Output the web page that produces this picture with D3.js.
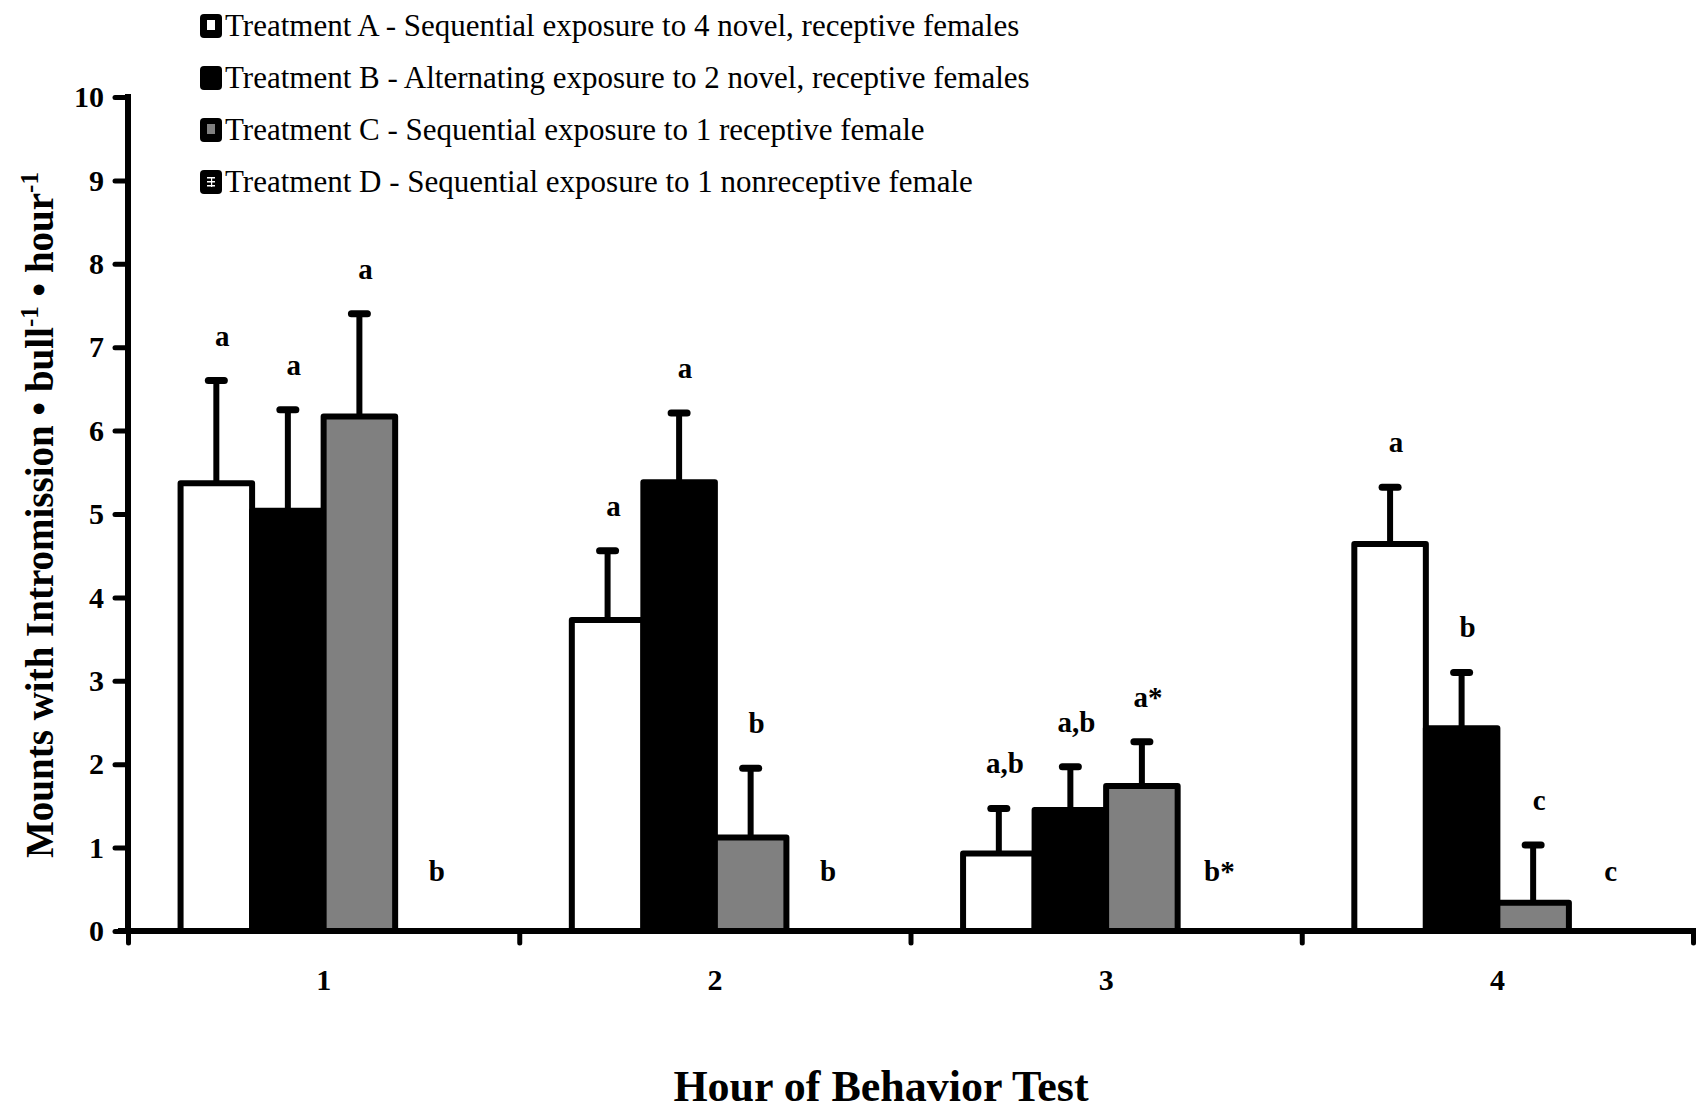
<!DOCTYPE html>
<html>
<head>
<meta charset="utf-8">
<script src="https://cdn.jsdelivr.net/npm/d3@7"></script>
<style>
  html, body { margin: 0; padding: 0; background: #fff; }
  svg { display: block; }
  text { font-family: "Liberation Serif", "DejaVu Serif", serif; fill: #000; }
</style>
</head>
<body>
<svg id="chart" width="1696" height="1111"></svg>
<script>
// ---------------- data ----------------
const categories = ["1", "2", "3", "4"];
const seriesKeys = ["A", "B", "C", "D"];
const seriesLabels = [
  "Treatment A - Sequential exposure to 4 novel, receptive females",
  "Treatment B - Alternating exposure to 2 novel, receptive females",
  "Treatment C - Sequential exposure to 1 receptive female",
  "Treatment D - Sequential exposure to 1 nonreceptive female"
];
const meansA = [5.37, 3.73, 0.93, 4.64];
const meansB = [5.04, 5.38, 1.45, 2.43];
const meansC = [6.17, 1.12, 1.74, 0.34];
const meansD = [0, 0, 0, 0];
const seA = [1.23, 0.83, 0.54, 0.68];
const seB = [1.21, 0.83, 0.52, 0.67];
const seC = [1.23, 0.83, 0.53, 0.69];
const seD = [0, 0, 0, 0];
const lettersA = ["a", "a", "a,b", "a"];
const lettersB = ["a", "a", "a,b", "b"];
const lettersC = ["a", "b", "a*", "c"];
const lettersD = ["b", "b", "b*", "c"];
const yTicks = [0, 1, 2, 3, 4, 5, 6, 7, 8, 9, 10];
const xTitle = "Hour of Behavior Test";

const means = { A: meansA, B: meansB, C: meansC, D: meansD };
const ses = { A: seA, B: seB, C: seC, D: seD };
const letters = { A: lettersA, B: lettersB, C: lettersC, D: lettersD };
const fills = { A: "#ffffff", B: "#000000", C: "#808080", D: "#ffffff" };

// ---------------- layout ----------------
const svg = d3.select("#chart");
const W = 1696, H = 1111;
const axisX = 128;
const y = d3.scaleLinear().domain([0, 10]).range([931, 97]);
const x0 = d3.scaleBand().domain(categories).range([axisX, 1693]).padding(0);
const x1 = d3.scaleBand().domain(seriesKeys).range([0, x0.bandwidth()])
  .paddingInner(0).paddingOuter(0.735);
const xb = d3.scaleLinear().domain([0, categories.length]).range([axisX, 1693]);

const data = [];
categories.forEach((c, i) => {
  seriesKeys.forEach(k => {
    data.push({ cat: c, key: k, mean: means[k][i], se: ses[k][i], letter: letters[k][i] });
  });
});
const cx = d => x0(d.cat) + x1(d.key) + x1.bandwidth() / 2;

// bars
const g = svg.append("g");
g.selectAll("rect.bar")
  .data(data.filter(d => d.mean > 0))
  .join("rect")
  .attr("class", "bar")
  .attr("x", d => x0(d.cat) + x1(d.key))
  .attr("y", d => y(d.mean))
  .attr("width", x1.bandwidth())
  .attr("height", d => y(0) - y(d.mean))
  .attr("fill", d => fills[d.key])
  .attr("stroke", "#000")
  .attr("stroke-width", 6)
  .attr("stroke-linejoin", "round");

// error bars
const eb = data.filter(d => d.se > 0);
g.selectAll("line.err")
  .data(eb).join("line")
  .attr("x1", cx).attr("x2", cx)
  .attr("y1", d => y(d.mean))
  .attr("y2", d => y(d.mean + d.se))
  .attr("stroke", "#000").attr("stroke-width", 6);
g.selectAll("line.cap")
  .data(eb).join("line")
  .attr("x1", d => cx(d) - 8)
  .attr("x2", d => cx(d) + 8)
  .attr("y1", d => y(d.mean + d.se))
  .attr("y2", d => y(d.mean + d.se))
  .attr("stroke", "#000").attr("stroke-width", 7).attr("stroke-linecap", "round");

// letters
g.selectAll("text.letter")
  .data(data).join("text")
  .attr("x", d => cx(d) + 6)
  .attr("y", d => d.key === "D" ? y(0.6) : y(d.mean + d.se) - 35)
  .attr("text-anchor", "middle")
  .attr("font-size", 29)
  .attr("font-weight", "bold")
  .text(d => d.letter);

// y axis
const yAxis = svg.append("g").attr("transform", `translate(${axisX},0)`)
  .call(d3.axisLeft(y).tickValues(yTicks).tickSize(13).tickSizeOuter(0).tickPadding(11).tickFormat(d3.format("d")));
yAxis.select(".domain").attr("stroke-width", 6).attr("d", `M0,${y(10) - 3}V${y(0) + 3}`);
yAxis.selectAll(".tick line").attr("stroke-width", 5).attr("stroke-linecap", "round");
yAxis.selectAll(".tick text").attr("font-size", 30).attr("font-weight", "bold")
  .attr("font-family", "Liberation Serif, serif");

// x axis line
svg.append("line")
  .attr("x1", axisX - 10).attr("x2", W)
  .attr("y1", y(0)).attr("y2", y(0))
  .attr("stroke", "#000").attr("stroke-width", 6);
const xAxisTicks = svg.append("g").attr("transform", `translate(0,${y(0)})`)
  .call(d3.axisBottom(xb).ticks(categories.length).tickSize(12).tickSizeOuter(0).tickFormat(""));
xAxisTicks.select(".domain").remove();
xAxisTicks.selectAll(".tick line").attr("stroke-width", 5).attr("stroke-linecap", "round");

const xLabels = svg.append("g").attr("transform", `translate(0,${y(0)})`)
  .call(d3.axisBottom(x0).tickSize(0).tickPadding(38));
xLabels.select(".domain").remove();
xLabels.selectAll(".tick text").attr("font-size", 30).attr("font-weight", "bold")
  .attr("font-family", "Liberation Serif, serif");

// axis titles
svg.append("text")
  .attr("x", 881).attr("y", 1101)
  .attr("text-anchor", "middle")
  .attr("font-size", 44).attr("font-weight", "bold")
  .text(xTitle);

const yt = svg.append("text")
  .attr("transform", "translate(53,515) rotate(-90)")
  .attr("text-anchor", "middle")
  .attr("font-size", 39).attr("font-weight", "bold");
yt.append("tspan").text("Mounts with Intromission \u2022 bull");
yt.append("tspan").attr("dy", -15).attr("font-size", 25).text("-1");
yt.append("tspan").attr("dy", 15).text(" \u2022 hour");
yt.append("tspan").attr("dy", -15).attr("font-size", 25).text("-1");

// legend
const legend = svg.append("g");
const rowY = d3.scaleLinear().domain([0, 3]).range([26, 182]);
seriesKeys.forEach((k, i) => {
  const ly = rowY(i);
  const lg = legend.append("g").attr("transform", `translate(200,${ly})`);
  lg.append("rect").attr("x", 0).attr("y", -12).attr("width", 22).attr("height", 24)
    .attr("rx", 4).attr("fill", "#000");
  if (k === "A") {
    lg.append("rect").attr("x", 7).attr("y", -6).attr("width", 8).attr("height", 10).attr("fill", "#fff");
  } else if (k === "C") {
    lg.append("rect").attr("x", 7).attr("y", -6).attr("width", 8).attr("height", 10).attr("fill", "#808080");
  } else if (k === "D") {
    [-5, -1, 3].forEach(dy => lg.append("rect").attr("x", 7).attr("y", dy).attr("width", 8).attr("height", 1.5).attr("fill", "#fff"));
    lg.append("rect").attr("x", 11).attr("y", -5).attr("width", 1.2).attr("height", 10).attr("fill", "#fff");
  }
  lg.append("text").attr("x", 25).attr("y", 10)
    .attr("font-size", 31)
    .text(seriesLabels[i]);
});
</script>
</body>
</html>
